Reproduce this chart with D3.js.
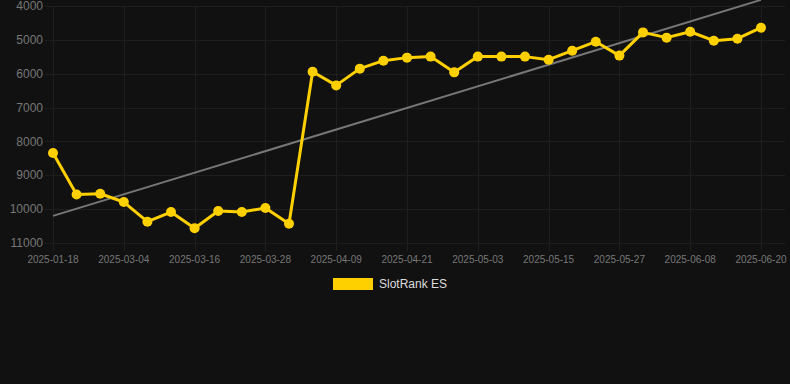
<!DOCTYPE html>
<meta charset="utf-8">
<title>SlotRank ES</title>
<style>
body {
  margin: 0;
  background: #111111;
  font-family: "Liberation Sans", Arial, sans-serif;
}
.grid line {
  stroke: #1e1e1e;
  stroke-width: 1;
}
.tick-label {
  fill: #777;
}
</style>
<svg width="790" height="384"></svg>
<script src="https://cdn.jsdelivr.net/npm/d3@7"></script>
<script>

var dates = [
  "2025-01-18", "2025-02-24", "2025-02-28", "2025-03-04", "2025-03-08", "2025-03-12",
  "2025-03-16", "2025-03-20", "2025-03-24", "2025-03-28", "2025-04-01", "2025-04-05",
  "2025-04-09", "2025-04-13", "2025-04-17", "2025-04-21", "2025-04-25", "2025-04-29",
  "2025-05-03", "2025-05-07", "2025-05-11", "2025-05-15", "2025-05-19", "2025-05-23",
  "2025-05-27", "2025-05-31", "2025-06-04", "2025-06-08", "2025-06-12", "2025-06-16",
  "2025-06-20"
];

var ranks = [
  8340, 9570, 9545, 9790, 10370, 10085, 10565, 10055, 10085, 9965, 10430, 5940,
  6345, 5850, 5615, 5525, 5495, 5960, 5495, 5495, 5495, 5585, 5320, 5055,
  5465, 4780, 4935, 4760, 5025, 4965, 4640
];

// linear trend, value at first and last date
var trendValues = [10200, 3820];

var yTicks = [4000, 5000, 6000, 7000, 8000, 9000, 10000, 11000];
var labelEvery = 3;

var seriesName = "SlotRank ES";
var yellow = "#ffd000";

var svg = d3.select("svg"),
    plotLeft = 53, plotRight = 761, plotTop = 6, plotBottom = 243;

var x = d3.scalePoint()
    .domain(dates)
    .range([plotLeft, plotRight]);

var y = d3.scaleLinear()
    .domain([4000, 11000])
    .range([plotTop, plotBottom]);

// grid
var grid = svg.append("g").attr("class", "grid");

grid.selectAll(".h")
    .data(yTicks)
  .enter().append("line")
    .attr("x1", 45)
    .attr("x2", 785)
    .attr("y1", function(d) { return Math.round(y(d)) + 0.5; })
    .attr("y2", function(d) { return Math.round(y(d)) + 0.5; });

var labelDates = dates.filter(function(d, i) { return i % labelEvery == 0; });

grid.selectAll(".v")
    .data(labelDates)
  .enter().append("line")
    .attr("x1", function(d) { return Math.round(x(d)) + 0.5; })
    .attr("x2", function(d) { return Math.round(x(d)) + 0.5; })
    .attr("y1", plotTop)
    .attr("y2", plotBottom + 8);

// y labels
svg.append("g")
  .selectAll("text")
    .data(yTicks)
  .enter().append("text")
    .attr("class", "tick-label")
    .attr("x", 43)
    .attr("y", function(d) { return y(d); })
    .attr("dy", "0.35em")
    .attr("text-anchor", "end")
    .style("font-size", "12px")
    .text(function(d) { return d; });

// x labels
svg.append("g")
  .selectAll("text")
    .data(labelDates)
  .enter().append("text")
    .attr("class", "tick-label")
    .attr("x", function(d) { return x(d); })
    .attr("y", 263)
    .attr("text-anchor", "middle")
    .style("font-size", "10px")
    .text(function(d) { return d; });

// trend line
svg.append("line")
    .attr("x1", x(dates[0]))
    .attr("y1", y(trendValues[0]))
    .attr("x2", x(dates[dates.length - 1]))
    .attr("y2", y(trendValues[1]))
    .attr("stroke", "#777")
    .attr("stroke-width", 2);

// series
var line = d3.line()
    .x(function(d, i) { return x(dates[i]); })
    .y(function(d) { return y(d); });

svg.append("path")
    .datum(ranks)
    .attr("d", line)
    .attr("fill", "none")
    .attr("stroke", yellow)
    .attr("stroke-width", 3)
    .attr("stroke-linejoin", "round");

svg.append("g")
  .selectAll("circle")
    .data(ranks)
  .enter().append("circle")
    .attr("cx", function(d, i) { return x(dates[i]); })
    .attr("cy", function(d) { return y(d); })
    .attr("r", 5)
    .attr("fill", yellow);

// legend
var legend = svg.append("g").attr("transform", "translate(333,278)");

legend.append("rect")
    .attr("width", 40)
    .attr("height", 12)
    .attr("fill", yellow);

legend.append("text")
    .attr("x", 46)
    .attr("y", 6)
    .attr("dy", "0.35em")
    .style("font-size", "12px")
    .attr("fill", "#ddd")
    .text(seriesName);

</script>
